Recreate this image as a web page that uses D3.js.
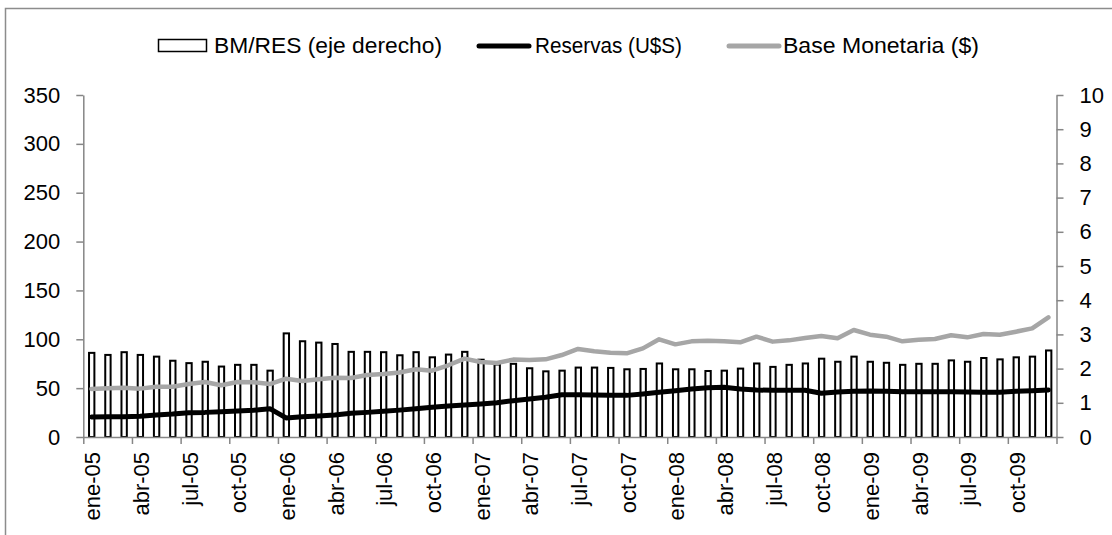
<!DOCTYPE html>
<html>
<head>
<meta charset="utf-8">
<script src="https://cdn.jsdelivr.net/npm/d3@7"></script>
<style>
  html, body { margin: 0; padding: 0; background: #fff; }
  svg { display: block; }
  text { font-family: "Liberation Sans", Arial, sans-serif; fill: #000; }
</style>
</head>
<body>
<svg id="chart" width="1112" height="535"></svg>
<script>
// ---- data ----
const monthNames = ["ene","feb","mar","abr","may","jun","jul","ago","sep","oct","nov","dic"];
const years = ["05","06","07","08","09"];
const categories = [];
years.forEach(y => monthNames.forEach(m => categories.push(m + "-" + y)));

const tickLabels = categories.filter(c => /^(ene|abr|jul|oct)-/.test(c));

const bmRes = [
  2.46, 2.40, 2.48, 2.40, 2.35, 2.23, 2.16, 2.20, 2.06, 2.11, 2.11, 1.94,
  3.03, 2.80, 2.76, 2.72, 2.49, 2.49, 2.48, 2.39, 2.48, 2.33, 2.41, 2.49,
  2.26, 2.12, 2.14, 2.01, 1.92, 1.94, 2.03, 2.03, 2.02, 1.98, 1.99, 2.15,
  1.98, 1.98, 1.93, 1.94, 2.00, 2.15, 2.05, 2.11, 2.15, 2.29, 2.20, 2.35,
  2.20, 2.17, 2.11, 2.14, 2.14, 2.24, 2.20, 2.31, 2.27, 2.33, 2.35, 2.53
];

const reservas = [
  20.5, 20.8, 20.8, 21.2, 22.5, 23.5, 24.9, 25.2, 25.9, 26.6, 27.3, 29.0,
  19.5, 20.8, 21.5, 22.5, 24.2, 25.2, 26.3, 27.5, 29.0, 30.4, 31.7, 32.8,
  33.8, 35.1, 37.2, 38.9, 40.6, 43.3, 43.3, 43.0, 42.6, 42.6, 44.0, 45.7,
  47.4, 49.1, 50.5, 50.8, 49.1, 48.1, 47.8, 47.8, 47.8, 44.7, 46.1, 46.7,
  47.1, 46.7, 46.4, 46.4, 46.4, 46.4, 46.1, 45.7, 45.7, 46.7, 47.4, 48.1
];

const baseMonetaria = [
  49.1, 49.8, 50.5, 49.5, 51.5, 51.5, 54.2, 56.3, 52.9, 56.3, 56.0, 54.2,
  59.7, 57.3, 59.0, 60.7, 60.4, 63.5, 64.5, 66.0, 69.3, 67.9, 73.4, 80.2,
  76.8, 75.8, 79.2, 78.8, 79.5, 83.9, 90.1, 87.7, 86.3, 85.6, 90.7, 100.0,
  94.8, 97.9, 98.6, 97.9, 96.9, 102.7, 97.6, 98.9, 101.3, 103.4, 101.0, 109.5,
  104.7, 102.7, 97.9, 99.6, 100.3, 104.1, 102.0, 105.4, 104.7, 107.8, 111.2, 122.5
];

const leftTicks = [0, 50, 100, 150, 200, 250, 300, 350];
const rightTicks = [0, 1, 2, 3, 4, 5, 6, 7, 8, 9, 10];

const legendItems = [
  { label: "BM/RES (eje derecho)", type: "bar" },
  { label: "Reservas (U$S)", type: "line", color: "#000000" },
  { label: "Base Monetaria ($)", type: "line", color: "#a6a6a6" }
];

// ---- layout ----
const svg = d3.select("#chart");
const plot = { left: 83.3, right: 1056.5, top: 95, bottom: 437 };
const axisColor = "#868686";

// outer frame
svg.append("rect")
  .attr("x", 5.5).attr("y", 8.5)
  .attr("width", 1200).attr("height", 600)
  .attr("fill", "none").attr("stroke", "#8c8c8c").attr("stroke-width", 1.5);

const x = d3.scaleBand().domain(categories).range([plot.left, plot.right]).paddingInner(0).paddingOuter(0);
const xIdx = d3.scaleLinear().domain([0, categories.length]).range([plot.left, plot.right]);
const yL = d3.scaleLinear().domain([0, 350]).range([plot.bottom, plot.top]);
const yR = d3.scaleLinear().domain([0, 10]).range([plot.bottom, plot.top]);

const bw = x.bandwidth();
const barW = bw * 0.33;

// bars
svg.append("g").selectAll("rect").data(bmRes).join("rect")
  .attr("x", (d, i) => x(categories[i]) + bw / 2 - barW / 2 + 0.3)
  .attr("y", d => yR(d))
  .attr("width", barW)
  .attr("height", d => yR(0) - yR(d))
  .attr("fill", "#fff")
  .attr("stroke", "#000")
  .attr("stroke-width", 2);

// lines
const lineGen = arr => d3.line()
  .x((d, i) => x(categories[i]) + bw / 2)
  .y(d => yL(d))(arr);

svg.append("path").attr("d", lineGen(reservas))
  .attr("fill", "none").attr("stroke", "#000").attr("stroke-width", 5)
  .attr("stroke-linejoin", "round").attr("stroke-linecap", "round");

svg.append("path").attr("d", lineGen(baseMonetaria))
  .attr("fill", "none").attr("stroke", "#a6a6a6").attr("stroke-width", 4.5)
  .attr("stroke-linejoin", "round").attr("stroke-linecap", "round");

// axes
function styleAxis(g) {
  g.selectAll("path.domain").attr("stroke", axisColor).attr("stroke-width", 1.5);
  g.selectAll(".tick line").attr("stroke", axisColor).attr("stroke-width", 1.5);
  g.selectAll("text").attr("font-size", "22px").attr("font-family", '"Liberation Sans", Arial, sans-serif').attr("fill", "#000");
}

svg.append("g")
  .attr("transform", `translate(${plot.left},0)`)
  .call(d3.axisLeft(yL).tickValues(leftTicks).tickSize(7).tickPadding(16).tickSizeOuter(0))
  .call(styleAxis);

svg.append("g")
  .attr("transform", `translate(${plot.right},0)`)
  .call(d3.axisRight(yR).tickValues(rightTicks).tickSize(7).tickPadding(16).tickSizeOuter(0))
  .call(styleAxis);

const xTickVals = d3.range(0, categories.length + 1, 3);
svg.append("g")
  .attr("transform", `translate(0,${plot.bottom})`)
  .call(d3.axisBottom(xIdx).tickValues(xTickVals).tickSize(7).tickSizeOuter(0).tickFormat(""))
  .call(styleAxis);

// x labels (rotated)
svg.append("g").selectAll("text").data(tickLabels).join("text")
  .attr("transform", d => `translate(${x(d) + bw / 2 + 1},452) rotate(-90)`)
  .attr("text-anchor", "end")
  .attr("dy", "0.36em")
  .attr("font-size", "22px")
  .text(d => d);

// legend
const lg = svg.append("g");
// bar swatch
lg.append("rect").attr("x", 158.5).attr("y", 39.5).attr("width", 48).attr("height", 12)
  .attr("fill", "#fff").attr("stroke", "#000").attr("stroke-width", 1.5);
lg.append("text").attr("x", 214).attr("y", 53).attr("font-size", "22px")
  .attr("textLength", 228).attr("lengthAdjust", "spacingAndGlyphs").text(legendItems[0].label);

lg.append("line").attr("x1", 479).attr("x2", 529).attr("y1", 46).attr("y2", 46)
  .attr("stroke", legendItems[1].color).attr("stroke-width", 5).attr("stroke-linecap", "round");
lg.append("text").attr("x", 535).attr("y", 53).attr("font-size", "22px")
  .attr("textLength", 147).attr("lengthAdjust", "spacingAndGlyphs").text(legendItems[1].label);

lg.append("line").attr("x1", 729).attr("x2", 779).attr("y1", 46).attr("y2", 46)
  .attr("stroke", legendItems[2].color).attr("stroke-width", 5).attr("stroke-linecap", "round");
lg.append("text").attr("x", 783).attr("y", 53).attr("font-size", "22px")
  .attr("textLength", 196).attr("lengthAdjust", "spacingAndGlyphs").text(legendItems[2].label);
</script>
</body>
</html>
